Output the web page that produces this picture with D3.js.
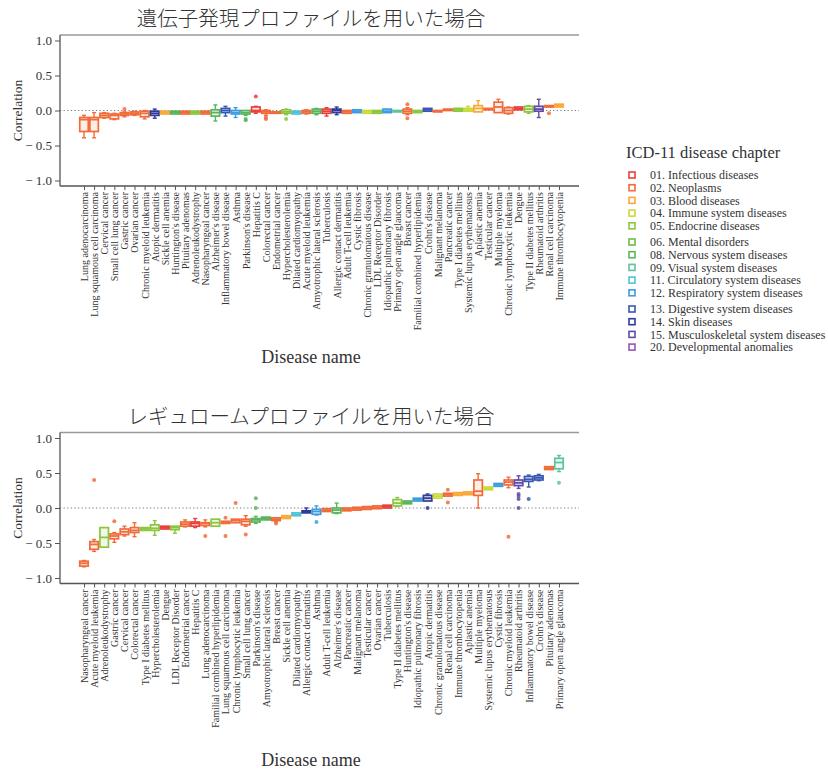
<!DOCTYPE html>
<html>
<head>
<meta charset="utf-8">
<script src="https://cdn.jsdelivr.net/npm/d3@7"></script>
<style>
  html, body { margin: 0; padding: 0; background: #fff; }
  svg { display: block; }
  text { font-family: "Liberation Serif", "DejaVu Serif", serif; fill: #333; }
</style>
</head>
<body>
<svg id="chart" width="828" height="773"></svg>
<script>
// ---------------- DATA ----------------
const chapterCodes = ["01","02","03","04","05","06","08","09","11","12","13","14","15","20"];
const chapterLabels = [
  "01. Infectious diseases","02. Neoplasms","03. Blood diseases","04. Immune system diseases",
  "05. Endocrine diseases","06. Mental disorders","08. Nervous system diseases","09. Visual system diseases",
  "11. Circulatory system diseases","12. Respiratory system diseases","13. Digestive system diseases",
  "14. Skin diseases","15. Musculoskeletal system diseases","20. Developmental anomalies"
];
const chapterColors = ["#e8413c","#f26b3a","#f9a93b","#c9da3c","#8cc63f","#6cbd47","#5ab55c",
  "#5fc49a","#4ec3d6","#3c9de0","#3858b2","#2f3b98","#5f4ba8","#9b55b4"];

const diseaseChapter = {
  "Hepatitis C":"01","Tuberculosis":"01","Dengue":"01",
  "Lung adenocarcinoma":"02","Lung squamous cell carcinoma":"02","Cervical cancer":"02","Small cell lung cancer":"02",
  "Gastric cancer":"02","Ovarian cancer":"02","Chronic myeloid leukemia":"02","Pituitary adenomas":"02",
  "Nasopharyngeal cancer":"02","Colorectal cancer":"02","Endometrial cancer":"02","Acute myeloid leukemia":"02",
  "Adult T-cell leukemia":"02","Breast cancer":"02","Malignant melanoma":"02","Pancreatic cancer":"02",
  "Testicular cancer":"02","Multiple myeloma":"02","Chronic lymphocytic leukemia":"02","Renal cell carcinoma":"02",
  "Sickle cell anemia":"03","Aplastic anemia":"03","Immune thrombocytopenia":"03",
  "Chronic granulomatous disease":"04","Systemic lupus erythematosus":"04",
  "Adrenoleukodystrophy":"05","Hypercholesterolemia":"05","LDL Receptor Disorder":"05",
  "Familial combined hyperlipidemia":"05","Type I diabetes mellitus":"05","Type II diabetes mellitus":"05",
  "Huntington's disease":"08","Alzheimer's disease":"08","Parkinson's disease":"08","Amyotrophic lateral sclerosis":"08",
  "Primary open angle glaucoma":"09","Dilated cardiomyopathy":"11",
  "Asthma":"12","Cystic fibrosis":"12","Idiopathic pulmonary fibrosis":"12",
  "Inflammatory bowel disease":"13","Crohn's disease":"13",
  "Atopic dermatitis":"14","Allergic contact dermatitis":"14","Rheumatoid arthritis":"15"
};

// --- Chart 1: gene expression profile ---
const topTitle = "遺伝子発現プロファイルを用いた場合";
const topCategories = ["Lung adenocarcinoma","Lung squamous cell carcinoma","Cervical cancer","Small cell lung cancer",
  "Gastric cancer","Ovarian cancer","Chronic myeloid leukemia","Atopic dermatitis","Sickle cell anemia",
  "Huntington's disease","Pituitary adenomas","Adrenoleukodystrophy","Nasopharyngeal cancer","Alzheimer's disease",
  "Inflammatory bowel disease","Asthma","Parkinson's disease","Hepatitis C","Colorectal cancer","Endometrial cancer",
  "Hypercholesterolemia","Dilated cardiomyopathy","Acute myeloid leukemia","Amyotrophic lateral sclerosis",
  "Tuberculosis","Allergic contact dermatitis","Adult T-cell leukemia","Cystic fibrosis",
  "Chronic granulomatous disease","LDL Receptor Disorder","Idiopathic pulmonary fibrosis",
  "Primary open angle glaucoma","Breast cancer","Familial combined hyperlipidemia","Crohn's disease",
  "Malignant melanoma","Pancreatic cancer","Type I diabetes mellitus","Systemic lupus erythematosus",
  "Aplastic anemia","Testicular cancer","Multiple myeloma","Chronic lymphocytic leukemia","Dengue",
  "Type II diabetes mellitus","Rheumatoid arthritis","Renal cell carcinoma","Immune thrombocytopenia"];
const topQ3 =     [-0.10,-0.10,-0.04,-0.05,-0.03,-0.02,-0.01,-0.01,-0.01,-0.01,-0.01,-0.01,-0.01, 0.01, 0.03, 0.00,-0.00, 0.05, 0.00,-0.02, 0.01,-0.01, 0.00, 0.02, 0.02, 0.02, 0.00, 0.01, 0.00, 0.00, 0.02, 0.00, 0.02, 0.00, 0.03, 0.00, 0.02, 0.03, 0.03, 0.07, 0.03, 0.12, 0.04, 0.05, 0.06, 0.06, 0.07, 0.09];
const topMedian = [-0.13,-0.13,-0.07,-0.07,-0.05,-0.04,-0.04,-0.04,-0.03,-0.03,-0.03,-0.03,-0.03,-0.03,-0.00,-0.03,-0.03, 0.00,-0.02,-0.03,-0.02,-0.03,-0.02,-0.01,-0.01, 0.00,-0.02,-0.01,-0.02,-0.02,-0.01,-0.01,-0.01,-0.01, 0.01,-0.01, 0.01, 0.01, 0.01, 0.03, 0.02, 0.05, 0.00, 0.03, 0.02, 0.02, 0.06, 0.07];
const topQ1 =     [-0.30,-0.30,-0.10,-0.12,-0.07,-0.06,-0.09,-0.07,-0.05,-0.05,-0.05,-0.05,-0.05,-0.08,-0.03,-0.05,-0.05,-0.02,-0.04,-0.04,-0.04,-0.05,-0.04,-0.04,-0.04,-0.03,-0.04,-0.03,-0.04,-0.04,-0.03,-0.02,-0.04,-0.03,-0.01,-0.02, 0.00,-0.01,-0.01,-0.02, 0.01,-0.03,-0.04, 0.01,-0.02,-0.01, 0.05, 0.05];
const topHigh =   [-0.07,-0.03,-0.03,-0.04,-0.02,-0.01, 0.00, 0.02,-0.01,-0.01,-0.01,-0.01,-0.01, 0.08, 0.06, 0.04, 0.00, 0.06, 0.01,-0.02, 0.02,-0.01, 0.01, 0.03, 0.04, 0.05, 0.00, 0.01, 0.00, 0.00, 0.02, 0.00, 0.04, 0.00, 0.03, 0.00, 0.02, 0.03, 0.06, 0.14, 0.03, 0.16, 0.05, 0.05, 0.07, 0.16, 0.07, 0.09];
const topLow =    [-0.39,-0.39,-0.11,-0.13,-0.09,-0.07,-0.12,-0.11,-0.05,-0.05,-0.05,-0.05,-0.05,-0.15,-0.08,-0.10,-0.07,-0.04,-0.07,-0.04,-0.06,-0.05,-0.05,-0.06,-0.08,-0.06,-0.04,-0.03,-0.04,-0.04,-0.03,-0.02,-0.06,-0.03,-0.01,-0.02, 0.00,-0.01,-0.01,-0.02, 0.01,-0.03,-0.05, 0.01,-0.04,-0.10, 0.05, 0.05];
const topOutliers = [[],[],[],[],[0.02],[],[],[],[],[],[],[],[],[],[],[],[-0.12,-0.14],[0.20],[-0.10,-0.12],[],
  [-0.12],[],[],[],[],[],[],[],[],[],[],[],[0.09,-0.11],[],[],[],[],[],[],[],[],[],[],[],[],[],[-0.04],[]];

// --- Chart 2: regulome profile ---
const bottomTitle = "レギュロームプロファイルを用いた場合";
const bottomCategories = ["Nasopharyngeal cancer","Acute myeloid leukemia","Adrenoleukodystrophy","Gastric cancer",
  "Cervical cancer","Colorectal cancer","Type I diabetes mellitus","Hypercholesterolemia","Dengue",
  "LDL Receptor Disorder","Endometrial cancer","Hepatitis C","Lung adenocarcinoma","Familial combined hyperlipidemia",
  "Lung squamous cell carcinoma","Chronic lymphocytic leukemia","Small cell lung cancer","Parkinson's disease",
  "Amyotrophic lateral sclerosis","Breast cancer","Sickle cell anemia","Dilated cardiomyopathy",
  "Allergic contact dermatitis","Asthma","Adult T-cell leukemia","Alzheimer's disease","Pancreatic cancer",
  "Malignant melanoma","Testicular cancer","Ovarian cancer","Tuberculosis","Type II diabetes mellitus",
  "Huntington's disease","Idiopathic pulmonary fibrosis","Atopic dermatitis","Chronic granulomatous disease",
  "Renal cell carcinoma","Immune thrombocytopenia","Aplastic anemia","Multiple myeloma",
  "Systemic lupus erythematosus","Cystic fibrosis","Chronic myeloid leukemia","Rheumatoid arthritis",
  "Inflammatory bowel disease","Crohn's disease","Pituitary adenomas","Primary open angle glaucoma"];
const bottomQ3 =     [-0.76,-0.48,-0.28,-0.37,-0.30,-0.28,-0.28,-0.24,-0.26,-0.26,-0.20,-0.20,-0.21,-0.16,-0.19,-0.16,-0.16,-0.15,-0.13,-0.14,-0.11,-0.07,-0.04,-0.02,-0.01, 0.00, 0.00, 0.01, 0.02, 0.03, 0.04, 0.12, 0.10, 0.14, 0.18, 0.20, 0.21, 0.22, 0.23, 0.40, 0.30, 0.35, 0.40, 0.40, 0.45, 0.46, 0.59, 0.71];
const bottomMedian = [-0.79,-0.52,-0.42,-0.40,-0.34,-0.32,-0.30,-0.29,-0.28,-0.28,-0.23,-0.22,-0.22,-0.21,-0.20,-0.18,-0.19,-0.17,-0.15,-0.16,-0.13,-0.09,-0.05,-0.05,-0.03,-0.03,-0.02,-0.01, 0.00, 0.01, 0.02, 0.07, 0.08, 0.12, 0.14, 0.17, 0.19, 0.20, 0.21, 0.24, 0.28, 0.33, 0.37, 0.36, 0.41, 0.43, 0.57, 0.65];
const bottomQ1 =     [-0.83,-0.59,-0.56,-0.44,-0.38,-0.35,-0.32,-0.32,-0.30,-0.31,-0.26,-0.26,-0.25,-0.26,-0.22,-0.21,-0.24,-0.20,-0.17,-0.18,-0.15,-0.11,-0.07,-0.09,-0.05,-0.07,-0.04,-0.03,-0.02,-0.01, 0.00, 0.03, 0.06, 0.10, 0.10, 0.14, 0.17, 0.18, 0.19, 0.18, 0.26, 0.31, 0.33, 0.32, 0.38, 0.40, 0.55, 0.56];
const bottomHigh =   [-0.75,-0.45,-0.28,-0.35,-0.26,-0.21,-0.28,-0.18,-0.26,-0.26,-0.17,-0.15,-0.17,-0.16,-0.19,-0.16,-0.11,-0.12,-0.13,-0.14,-0.11,-0.07, 0.00, 0.03,-0.01, 0.07, 0.00, 0.01, 0.02, 0.03, 0.04, 0.15, 0.10, 0.14, 0.20, 0.20, 0.21, 0.22, 0.23, 0.49, 0.30, 0.35, 0.44, 0.46, 0.47, 0.48, 0.59, 0.75];
const bottomLow =    [-0.84,-0.62,-0.56,-0.49,-0.40,-0.41,-0.32,-0.39,-0.30,-0.36,-0.27,-0.28,-0.27,-0.26,-0.22,-0.21,-0.26,-0.22,-0.17,-0.20,-0.15,-0.11,-0.07,-0.10,-0.05,-0.08,-0.04,-0.03,-0.02,-0.01, 0.00, 0.02, 0.06, 0.10, 0.10, 0.14, 0.17, 0.18, 0.19, 0.00, 0.26, 0.31, 0.29, 0.28, 0.30, 0.39, 0.55, 0.52];
const bottomOutliers = [[],[0.40],[],[-0.19],[],[],[],[],[],[],[],[],[-0.40],[],[-0.14,-0.40],[0.07],[-0.38],[0.14,0.0],
  [],[-0.22],[],[],[],[-0.20],[],[],[],[],[],[],[],[],[],[],[0.0],[],[0.26,0.08],[],[],[],[],[],[-0.41],
  [0.20,0.17,0.13,0.0],[0.13],[],[],[0.36]];

const yTicks = [-1, -0.5, 0, 0.5, 1];

// ---------------- DRAW ----------------
const SERIF = "'Liberation Serif', 'Times New Roman', serif";
const svg = d3.select("#chart").attr("font-family", SERIF);
const colorOf = d3.scaleOrdinal().domain(chapterCodes).range(chapterColors);
const fmt = d => d < 0 ? "\u2212 " + Math.abs(d).toFixed(1) : d.toFixed(1);

function drawPanel(opt) {
  const g = svg.append("g").attr("transform", `translate(0,${opt.dy})`);
  const left = 60, right = 579, frameTop = 35, frameBottom = 186;
  const y = d3.scaleLinear().domain([-1, 1]).range([180.5, 40.5]);
  const x = d3.scalePoint().domain(opt.cats).range([84, 559]);

  // title
  g.append("text").attr("x", 311).attr("y", 26).attr("text-anchor", "middle")
    .style("font-family", "'Noto Sans CJK JP', sans-serif").style("font-weight", 300)
    .style("font-size", "20.5px").style("fill", "#333").text(opt.title);

  // frame top line
  g.append("line").attr("x1", left).attr("x2", right).attr("y1", frameTop).attr("y2", frameTop)
    .attr("stroke", "#9a9a9a").attr("stroke-width", 1.5);

  // zero dotted line
  g.append("line").attr("x1", left).attr("x2", right).attr("y1", y(0)).attr("y2", y(0))
    .attr("stroke", "#777").attr("stroke-width", 1).attr("stroke-dasharray", "1.2,2.4");

  // y axis
  const ya = g.append("g").attr("transform", `translate(${left},0)`)
    .call(d3.axisLeft(y).tickValues(yTicks).tickSize(5).tickPadding(3).tickFormat(fmt));
  ya.attr("font-family", SERIF);
  ya.select(".domain").remove();
  ya.selectAll(".tick line").attr("stroke", "#555");
  ya.selectAll(".tick text").style("font-family", SERIF).style("font-size", "13px").style("fill", "#333");
  g.append("line").attr("x1", left).attr("x2", left).attr("y1", frameTop).attr("y2", frameBottom)
    .attr("stroke", "#555").attr("stroke-width", 1.3);

  // x axis
  const xa = g.append("g").attr("transform", `translate(0,${frameBottom})`)
    .call(d3.axisBottom(x).tickSize(4).tickSizeOuter(0));
  xa.attr("font-family", SERIF);
  xa.select(".domain").remove();
  xa.selectAll(".tick line").attr("stroke", "#555");
  xa.selectAll(".tick text")
    .attr("transform", "rotate(-90)").attr("x", -6).attr("y", 0).attr("dy", "0.34em")
    .style("text-anchor", "end").style("font-family", SERIF)
    .style("font-size", "10px").style("fill", "#333");
  g.append("line").attr("x1", left).attr("x2", right).attr("y1", frameBottom).attr("y2", frameBottom)
    .attr("stroke", "#555").attr("stroke-width", 1.3);

  // axis titles
  g.append("text").attr("transform", `translate(22,${y(0)}) rotate(-90)`).attr("text-anchor", "middle")
    .style("font-family", SERIF).style("font-size", "13.5px").text("Correlation");
  g.append("text").attr("x", 311).attr("y", opt.xTitleY).attr("text-anchor", "middle")
    .style("font-family", SERIF).style("font-size", "18px").text("Disease name");

  // boxes
  const bw = 8.5, cw = 4;
  const items = opt.cats.map((c, i) => ({
    c, col: colorOf(diseaseChapter[c]),
    q1: opt.q1[i], med: opt.med[i], q3: opt.q3[i], lo: opt.lo[i], hi: opt.hi[i], out: opt.out[i]
  }));
  const bg = g.append("g");
  items.forEach(d => {
    const cx = x(d.c);
    const gg = bg.append("g");
    if (d.hi > d.q3 + 0.001) {
      gg.append("line").attr("x1", cx).attr("x2", cx).attr("y1", y(d.q3)).attr("y2", y(d.hi))
        .attr("stroke", d.col).attr("stroke-width", 1.4);
      gg.append("line").attr("x1", cx - cw / 2).attr("x2", cx + cw / 2).attr("y1", y(d.hi)).attr("y2", y(d.hi))
        .attr("stroke", d.col).attr("stroke-width", 1.4);
    }
    if (d.lo < d.q1 - 0.001) {
      gg.append("line").attr("x1", cx).attr("x2", cx).attr("y1", y(d.q1)).attr("y2", y(d.lo))
        .attr("stroke", d.col).attr("stroke-width", 1.4);
      gg.append("line").attr("x1", cx - cw / 2).attr("x2", cx + cw / 2).attr("y1", y(d.lo)).attr("y2", y(d.lo))
        .attr("stroke", d.col).attr("stroke-width", 1.4);
    }
    gg.append("rect").attr("x", cx - bw / 2).attr("width", bw)
      .attr("y", y(d.q3)).attr("height", Math.max(0.5, y(d.q1) - y(d.q3)))
      .attr("fill", "#fff").attr("stroke", d.col).attr("stroke-width", 1.7);
    gg.append("rect").attr("x", cx - bw / 2).attr("width", bw)
      .attr("y", y(d.q3)).attr("height", Math.max(0.5, y(d.q1) - y(d.q3)))
      .attr("fill", d.col).attr("fill-opacity", 0.12).attr("stroke", "none");
    gg.append("line").attr("x1", cx - bw / 2).attr("x2", cx + bw / 2).attr("y1", y(d.med)).attr("y2", y(d.med))
      .attr("stroke", d.col).attr("stroke-width", 1.8);
    d.out.forEach(v => {
      gg.append("circle").attr("cx", cx).attr("cy", y(v)).attr("r", 2)
        .attr("fill", d.col).attr("fill-opacity", 0.85);
    });
  });
}

drawPanel({ dy: 0, title: topTitle, cats: topCategories, q1: topQ1, med: topMedian, q3: topQ3,
  lo: topLow, hi: topHigh, out: topOutliers, xTitleY: 363 });
drawPanel({ dy: 397.5, title: bottomTitle, cats: bottomCategories, q1: bottomQ1, med: bottomMedian, q3: bottomQ3,
  lo: bottomLow, hi: bottomHigh, out: bottomOutliers, xTitleY: 368.5 });

// legend
const lg = svg.append("g");
lg.append("text").attr("x", 626).attr("y", 158).style("font-family", SERIF).style("font-size", "16.5px")
  .text("ICD-11 disease chapter");
const rowY = i => 175 + i * 12.7 + Math.floor(i / 5) * 3.5;
chapterCodes.forEach((code, i) => {
  lg.append("rect").attr("x", 632 - 3).attr("y", rowY(i) - 3).attr("width", 6).attr("height", 6)
    .attr("fill", "#fff").attr("stroke", colorOf(code)).attr("stroke-width", 1.6);
  lg.append("text").attr("x", 650).attr("y", rowY(i)).attr("dy", "0.35em")
    .style("font-family", SERIF).style("font-size", "12px").text(chapterLabels[i]);
});
</script>
</body>
</html>
